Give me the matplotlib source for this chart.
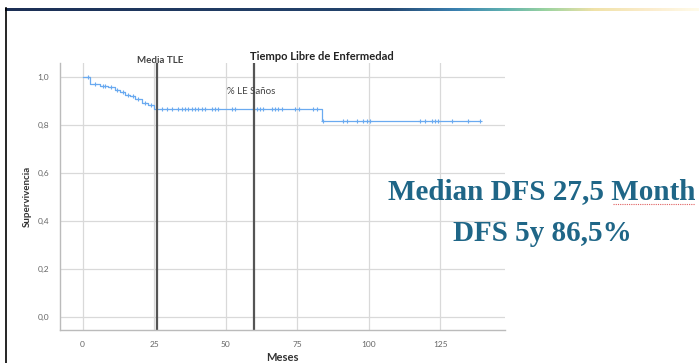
import numpy as np
import matplotlib.pyplot as plt
from matplotlib.colors import LinearSegmentedColormap
from matplotlib.lines import Line2D

# Kaplan-Meier: tiempo libre de enfermedad
event_times = [0, 2.6, 6.1, 9.0, 11.4, 13.1, 14.9, 16.6, 18.4, 20.7, 23.0, 25.0, 83.6]
survival = [1.0, 0.971, 0.964, 0.957, 0.947, 0.936, 0.926, 0.919, 0.908, 0.892, 0.885, 0.867, 0.818]
last_time = 139
censor_times = [2.0, 4.5, 7.0, 8.0, 10.0, 12.0, 14.0, 15.8, 17.5, 19.5, 21.8, 24.0,
                27.7, 29.4, 31.2, 33.5, 34.7, 35.8, 37.0, 38.1, 39.3, 40.5, 41.7, 42.8,
                45.2, 46.3, 47.5, 52.2, 53.3, 59.7, 60.9, 62.1, 63.2, 66.1, 67.3, 68.5,
                69.6, 74.3, 75.5, 80.7, 81.9,
                84.2, 91.2, 92.4, 95.9, 98.2, 99.4, 100.5, 118.0, 119.8, 122.1, 123.3,
                124.4, 129.1, 134.9, 139.0]
media_tle = 26
cinco_anos = 60
xticks = [0, 25, 50, 75, 100, 125]
yticks = [0.0, 0.2, 0.4, 0.6, 0.8, 1.0]
ytick_labels = ['0,0', '0,2', '0,4', '0,6', '0,8', '1,0']

plt.rcParams['font.family'] = ['Lato', 'DejaVu Sans']
curve_color = '#6aaaf0'

fig = plt.figure(figsize=(6.99, 3.63), dpi=100)
ax = fig.add_axes([60 / 699, 1 - 330 / 363, 445 / 699, 267 / 363])

xs = event_times + [last_time]
ys = survival + [survival[-1]]
ax.step(xs, ys, where='post', color=curve_color, lw=0.9)
idx = np.searchsorted(event_times, censor_times, side='right') - 1
cens_y = np.array(survival)[idx]
ax.plot(censor_times, cens_y, '+', color=curve_color, ms=3.5, mew=0.8)

ax.axvline(media_tle, color='#555555', lw=1.6)
ax.axvline(cinco_anos, color='#555555', lw=1.6)

ax.set_xlim(-7.9, 147.7)
ax.set_ylim(-0.054, 1.058)
ax.set_xticks(xticks)
ax.set_yticks(yticks)
ax.set_yticklabels(ytick_labels)
ax.grid(True, color='#d9d9d9', lw=0.9)
ax.set_axisbelow(True)
ax.tick_params(length=0, labelsize=6, labelcolor='#666666', pad=8)
for s in ['top', 'right']:
    ax.spines[s].set_visible(False)
for s in ['left', 'bottom']:
    ax.spines[s].set_color('#bbbbbb')
    ax.spines[s].set_linewidth(1)

ax.set_xlabel('Meses', fontsize=8, fontweight='bold', color='#333333', labelpad=3)
ax.set_ylabel('Supervivencia', fontsize=7, fontweight='bold', color='#333333', labelpad=4)

ax.text(media_tle + 1, 1.068, 'Media TLE', ha='center', va='center', fontsize=7,
        fontweight='bold', color='#444444')
ax.text(58.5, 1.086, 'Tiempo Libre de Enfermedad', ha='left', va='center', fontsize=8,
        fontweight='bold', color='#222222')
ax.text(50.5, 0.94, '% LE Saños', ha='left', va='center', fontsize=7, color='#444444')

# texto de la diapositiva
txt_color = '#1f6687'
fig.text(542 / 699, 1 - 192 / 363, 'Median DFS 27,5 Month', ha='center', va='center',
         fontsize=21, fontweight='bold', family='Liberation Serif', color=txt_color)
fig.text(542 / 699, 1 - 233 / 363, 'DFS 5y 86,5%', ha='center', va='center',
         fontsize=21, fontweight='bold', family='Liberation Serif', color=txt_color)
fig.add_artist(Line2D([613 / 699, 695 / 699], [1 - 204 / 363, 1 - 204 / 363],
                      color='#e06060', lw=0.8, ls=(0, (1, 1))))

# marco de la diapositiva
fig.add_artist(Line2D([5.5 / 699, 5.5 / 699], [0, 1 - 8 / 363], color='black', lw=1.2))
grad = LinearSegmentedColormap.from_list('barra', [(0, '#1c2f55'), (0.55, '#24456e'),
                                                   (0.65, '#3a80b0'), (0.72, '#5fb0b0'),
                                                   (0.78, '#9ad3a0'), (0.85, '#f0e2a8'),
                                                   (0.93, '#fbeccc'), (1, '#fffbea')])
bar_ax = fig.add_axes([5 / 699, 1 - 11 / 363, 694 / 699, 3.5 / 363])
bar_ax.imshow(np.linspace(0, 1, 256)[None, :], aspect='auto', cmap=grad)
bar_ax.axis('off')

fig.savefig('out.png', dpi=100)
